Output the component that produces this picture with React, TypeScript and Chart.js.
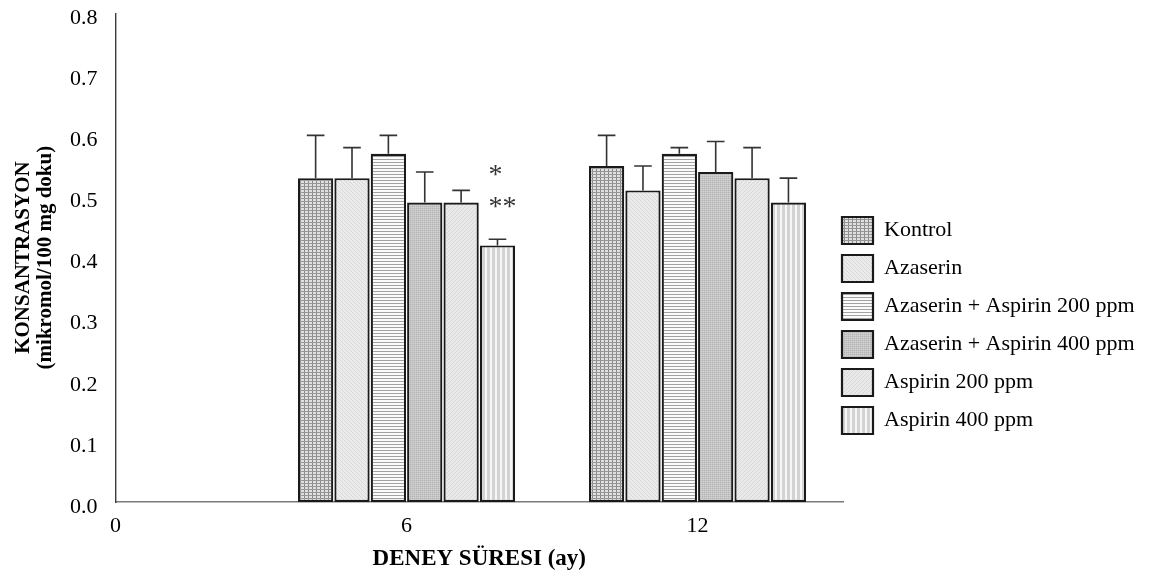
import React, { useEffect, useRef } from 'react';
import { Chart, registerables } from 'chart.js';

Chart.register(...registerables);

const FONT = '"Liberation Serif", "Times New Roman", serif';

// ---- data ----
const months = [6, 12];
const xTicks = [0, 6, 12];
const xMax = 15;
const yTickStep = 0.1;
const yMax = 0.8;

const seriesNames = [
  'Kontrol',
  'Azaserin',
  'Azaserin + Aspirin 200 ppm',
  'Azaserin + Aspirin 400 ppm',
  'Aspirin 200 ppm',
  'Aspirin 400 ppm',
];

const kontrol = [0.53, 0.55];
const azaserin = [0.53, 0.51];
const azaAsp200 = [0.57, 0.57];
const azaAsp400 = [0.49, 0.54];
const asp200 = [0.49, 0.53];
const asp400 = [0.42, 0.49];

const kontrolErr = [0.07, 0.05];
const azaserinErr = [0.05, 0.04];
const azaAsp200Err = [0.03, 0.01];
const azaAsp400Err = [0.05, 0.05];
const asp200Err = [0.02, 0.05];
const asp400Err = [0.01, 0.04];

const seriesValues = [kontrol, azaserin, azaAsp200, azaAsp400, asp200, asp400];
const seriesErrors = [kontrolErr, azaserinErr, azaAsp200Err, azaAsp400Err, asp200Err, asp400Err];

// significance marks: series index, month index, marks from lower to upper
const significance = [{ series: 5, index: 0, marks: ['**', '*'] }];

const legendTop = 206;

function makePattern(w: number, h: number, paint: (g: CanvasRenderingContext2D) => void) {
  const c = document.createElement('canvas');
  c.width = w;
  c.height = h;
  const g = c.getContext('2d')!;
  paint(g);
  return g.createPattern(c, 'repeat')!;
}

function buildPatterns() {
  const px = (g: CanvasRenderingContext2D, color: string, x: number, y: number, w = 1, h = 1) => {
    g.fillStyle = color;
    g.fillRect(x, y, w, h);
  };
  return [
    // Kontrol: grid
    makePattern(4, 3, (g) => {
      px(g, '#e0e0e0', 0, 0, 4, 3);
      px(g, '#8a8a8a', 0, 0, 1, 3);
      px(g, '#969696', 0, 0, 4, 1);
    }),
    // Azaserin: light fine texture
    makePattern(4, 4, (g) => {
      px(g, '#ebebeb', 0, 0, 4, 4);
      for (let i = 0; i < 4; i++) px(g, '#d8d8d8', i, i);
    }),
    // Azaserin + Aspirin 200: horizontal lines
    makePattern(2, 3, (g) => {
      px(g, '#fbfbfb', 0, 0, 2, 3);
      px(g, '#a2a2a2', 0, 0, 2, 1);
    }),
    // Azaserin + Aspirin 400: darker texture
    makePattern(2, 2, (g) => {
      px(g, '#c6c6c6', 0, 0, 2, 2);
      px(g, '#b4b4b4', 0, 0);
      px(g, '#d0d0d0', 1, 1);
    }),
    // Aspirin 200: light diagonal texture
    makePattern(4, 4, (g) => {
      px(g, '#e9e9e9', 0, 0, 4, 4);
      for (let i = 0; i < 4; i++) px(g, '#d8d8d8', 3 - i, i);
    }),
    // Aspirin 400: vertical stripes
    makePattern(5, 1, (g) => {
      px(g, '#f7f7f7', 0, 0, 5, 1);
      px(g, '#d3d3d3', 2, 0, 3, 1);
    }),
  ];
}

const errorBarPlugin = {
  id: 'errorBars',
  afterDatasetsDraw(chart: any) {
    const { ctx } = chart;
    const yScale = chart.scales.y;
    ctx.save();
    ctx.strokeStyle = '#333333';
    ctx.lineWidth = 1.6;
    chart.data.datasets.forEach((ds: any, i: number) => {
      const meta = chart.getDatasetMeta(i);
      const errs = seriesErrors[i];
      meta.data.forEach((bar: any, j: number) => {
        const v = seriesValues[i][j];
        const top = yScale.getPixelForValue(v + errs[j]);
        const half = bar.width / 4;
        ctx.beginPath();
        ctx.moveTo(bar.x, bar.y);
        ctx.lineTo(bar.x, top);
        ctx.moveTo(bar.x - half, top);
        ctx.lineTo(bar.x + half, top);
        ctx.stroke();
      });
    });
    ctx.fillStyle = '#333333';
    ctx.font = `28px ${FONT}`;
    ctx.textAlign = 'left';
    ctx.textBaseline = 'middle';
    significance.forEach((s) => {
      const bar = chart.getDatasetMeta(s.series).data[s.index];
      const v = seriesValues[s.series][s.index] + seriesErrors[s.series][s.index];
      const top = yScale.getPixelForValue(v);
      s.marks.forEach((m, k) => {
        ctx.fillText(m, bar.x - 9, top - 32 - k * 32);
      });
    });
    ctx.restore();
  },
};

const legendPlacePlugin = {
  id: 'legendPlace',
  afterLayout(chart: any) {
    const lg = chart.legend;
    if (!lg) return;
    lg.left = chart.chartArea.right - 12;
    lg.right = chart.width;
    const h = lg.bottom - lg.top;
    lg.top = legendTop;
    lg.bottom = Math.max(lg.top + h, chart.height);
  },
};

export default function App() {
  const ref = useRef<HTMLCanvasElement | null>(null);

  useEffect(() => {
    if (!ref.current) return;
    const patterns = buildPatterns();
    const datasets = seriesNames.map((name, i) => ({
      label: name,
      data: months.map((m, j) => ({ x: m, y: seriesValues[i][j] })),
      backgroundColor: patterns[i],
      borderColor: '#1a1a1a',
      borderWidth: 2.2,
      borderSkipped: false,
      barPercentage: 0.97,
      categoryPercentage: 0.75,
    }));

    const chart = new Chart(ref.current, {
      type: 'bar',
      data: { datasets },
      plugins: [errorBarPlugin, legendPlacePlugin],
      options: {
        responsive: false,
        animation: false,
        layout: { padding: { left: 10, right: 0, top: 0, bottom: 7 } },
        plugins: {
          legend: {
            position: 'right',
            align: 'start',
            maxWidth: 311,
            labels: {
              boxWidth: 31,
              boxHeight: 27,
              padding: 11,
              color: '#000',
              font: { family: FONT, size: 22 },
            },
          },
          tooltip: { enabled: false },
        },
        scales: {
          x: {
            type: 'linear',
            min: 0,
            max: xMax,
            offset: false,
            afterBuildTicks: (scale: any) => {
              scale.ticks = xTicks.map((v) => ({ value: v }));
            },
            grid: { display: false, drawTicks: true, tickLength: 11 },
            border: { display: true, color: '#7a7a7a', width: 1.6 },
            ticks: {
              padding: 0,
              color: '#000',
              font: { family: FONT, size: 22 },
              callback: (v: any) => String(v),
            },
            title: {
              display: true,
              text: 'DENEY SÜRESI (ay)',
              color: '#000',
              font: { family: FONT, size: 23, weight: 'bold' },
              padding: { top: 6, bottom: 3 },
            },
          },
          y: {
            min: 0,
            max: yMax,
            grid: { display: false, drawTicks: true, tickLength: 18 },
            border: { display: true, color: '#3c3c3c', width: 1.4 },
            ticks: {
              stepSize: yTickStep,
              padding: 0,
              labelOffset: 5,
              color: '#000',
              font: { family: FONT, size: 22 },
              callback: (v: any) => Number(v).toFixed(1),
            },
            title: {
              display: true,
              text: ['KONSANTRASYON', '(mikromol/100 mg doku)'],
              color: '#000',
              font: { family: FONT, size: 21, weight: 'bold', lineHeight: 1.05 },
              padding: { top: 3, bottom: 13 },
            },
          },
        },
      } as any,
    });
    return () => chart.destroy();
  }, []);

  return (
    <div style={{ position: 'fixed', left: 0, top: 0, width: 1154, height: 583, background: '#fff' }}>
      <canvas ref={ref} width={1154} height={583} />
    </div>
  );
}
